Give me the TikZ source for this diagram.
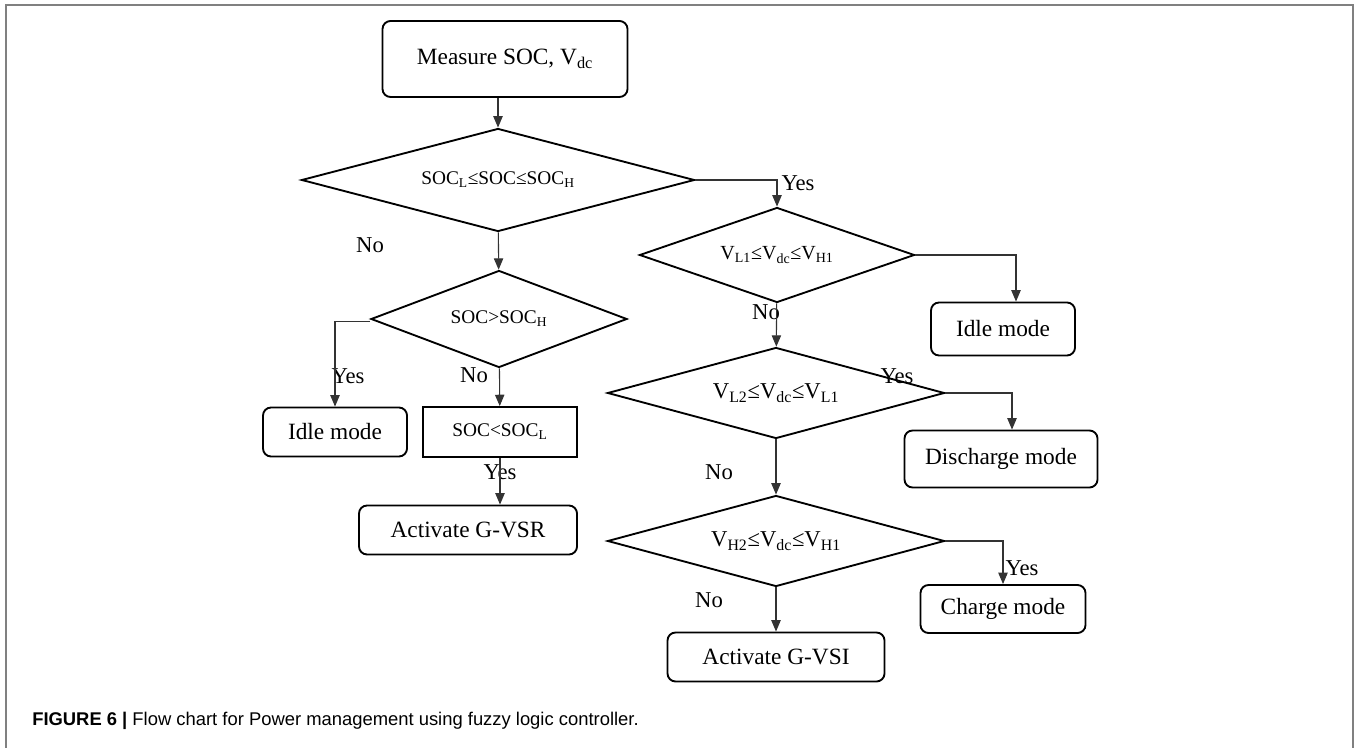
\documentclass[tikz,border=0pt]{standalone}
\usepackage{fontspec}
\setmainfont{Liberation Serif}
\newfontfamily\capfont{Liberation Sans}
\usetikzlibrary{shapes.geometric,arrows.meta,calc}

\begin{document}
\begin{tikzpicture}[x=0.75pt,y=-0.75pt,>={Triangle[length=8.5pt,width=7pt]}]
            \tikzstyle{box}=[draw=black,line width=1.4pt,rounded corners=6pt,inner sep=0pt,font=\fontsize{17.5}{20}\selectfont]
            \tikzstyle{plainbox}=[draw=black,line width=1.4pt,inner sep=0pt,font=\fontsize{14.5}{17}\selectfont]
            \tikzstyle{test}=[diamond,aspect=4,draw=black,line width=1.4pt,inner sep=0pt]
            \tikzstyle{lbl}=[inner sep=0pt,font=\fontsize{17}{20}\selectfont]
            \tikzstyle{link}=[->,draw=black!80,line width=0.8pt]

                    \useasboundingbox (0,0) rectangle (1356,748);
                    \draw[black!50,line width=1.2pt] (6,748) -- (6,5) -- (1353,5) -- (1353,748);

                    \node[box,minimum width=183.75pt,minimum height=57pt] (measure) at (505,59) {Measure SOC, V\textsubscript{dc}};

                    \node[test,minimum width=294.75pt,minimum height=77.25pt,font=\fontsize{14.5}{17}\selectfont] (d1) at (498,180) {SOC\textsubscript{L}≤SOC≤SOC\textsubscript{H}};
                    \node[test,minimum width=192pt,minimum height=72.75pt,font=\fontsize{14.5}{17}\selectfont] (dsoc) at (499,319) {SOC>SOC\textsubscript{H}};
                    \node[box,minimum width=108pt,minimum height=36.75pt] (idleA) at (335,432) {Idle mode};
                    \node[plainbox,minimum width=115.5pt,minimum height=37.5pt] (socl) at (500,432) {SOC<SOC\textsubscript{L}};
                    \node[box,minimum width=163.5pt,minimum height=36.75pt] (vsr) at (468,530) {Activate G-VSR};

                    \node[test,minimum width=206.25pt,minimum height=71.25pt,font=\fontsize{15}{18}\selectfont] (d2) at (777,255) {V\textsubscript{L1}≤V\textsubscript{dc}≤V\textsubscript{H1}};
                    \node[box,minimum width=108pt,minimum height=39.75pt] (idleB) at (1003,329) {Idle mode};
                    \node[test,minimum width=252.75pt,minimum height=68.25pt,font=\fontsize{17}{20}\selectfont] (d3) at (776,393) {V\textsubscript{L2}≤V\textsubscript{dc}≤V\textsubscript{L1}};
                    \node[box,minimum width=144.75pt,minimum height=42.75pt] (discharge) at (1001,459) {Discharge mode};
                    \node[test,minimum width=252.75pt,minimum height=68.25pt,font=\fontsize{17}{20}\selectfont] (d4) at (776,541) {V\textsubscript{H2}≤V\textsubscript{dc}≤V\textsubscript{H1}};
                    \node[box,minimum width=123.75pt,minimum height=36pt] (charge) at (1003,609) {Charge mode};
                    \node[box,minimum width=162.75pt,minimum height=36.75pt] (vsi) at (776,657) {Activate G-VSI};

                    \node[lbl] (no1) at (370,245) {No};
                    \node[lbl] (yes1) at (798,183) {Yes};
                    \node[lbl] (yes2) at (348,376) {Yes};
                    \node[lbl] (no2) at (474,375) {No};
                    \node[lbl] (yes3) at (500,472) {Yes};
                    \node[lbl] (no3) at (766,312) {No};
                    \node[lbl] (yes4) at (897,376) {Yes};
                    \node[lbl] (no4) at (719,472) {No};
                    \node[lbl] (yes5) at (1022,568) {Yes};
                    \node[lbl] (no5) at (709,600) {No};

                \foreach \from/\to in {d1/dsoc, dsoc/socl, d2/d3, d3/d4, d4/vsi}
                    \draw[link] (\from) -- (\to);
                \draw[link] (measure.south -| d1.north) -- (d1.north);
                \draw[link] (d1.east) -| (d2.north);
                \draw[link] ([yshift=-2pt]dsoc.west) -| (idleA.north);
                \draw[link] (socl.south) -- (socl.south |- vsr.north);
                \draw[link] (d2.east) -| ($(idleB.north)+(13,0)$);
                \draw[link] (d3.east) -| ($(discharge.north)+(11,0)$);
                \draw[link] (d4.east) -| (charge.north);

                    \node[anchor=west,inner sep=0pt,font=\capfont\fontsize{13.8}{16}\selectfont] (caption) at (32,721) {\textbf{FIGURE 6 |} Flow chart for Power management using fuzzy logic controller.};
        \end{tikzpicture}
\end{document}
